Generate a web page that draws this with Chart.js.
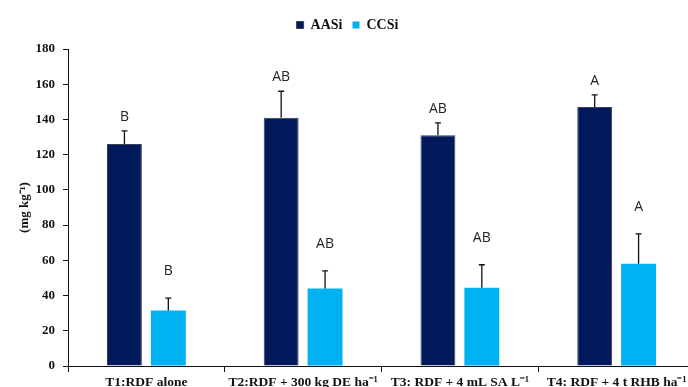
<!DOCTYPE html>
<html>
<head>
<meta charset="utf-8">
<script src="https://cdn.jsdelivr.net/npm/chart.js@4"></script>
<style>
  html, body { margin: 0; padding: 0; background: #fff; overflow: hidden; }
  #wrap { width: 700px; height: 387px; }
</style>
</head>
<body>
<div id="wrap"><canvas id="chart" width="700" height="387"></canvas></div>
<script>
// Treatments on the x axis
const categories = ['T1:RDF alone', 'T2:RDF + 300 kg DE ha\u207B\u00B9', 'T3: RDF + 4 mL SA L\u207B\u00B9', 'T4: RDF + 4 t RHB ha\u207B\u00B9'];

// Silicon fractions (mg kg-1)
const aasiValues = [126, 141, 131, 147];
const ccsiValues = [31.5, 44, 44.5, 58];

// Upper error bars
const aasiErrors = [7.5, 15, 7, 7];
const ccsiErrors = [7, 10, 13, 17];

// Significance letters
const aasiLetters = ['B', 'AB', 'AB', 'A'];
const ccsiLetters = ['B', 'AB', 'AB', 'A'];

const yTicks = [0, 20, 40, 60, 80, 100, 120, 140, 160, 180];

const serif = '"Liberation Serif", "Times New Roman", serif';

// draws error bars and letters above each bar
const errorBarPlugin = {
    id: 'errorBars',
    afterDatasetsDraw(chart) {
        const ctx = chart.ctx;
        const yScale = chart.scales.y;
        const errs = [aasiErrors, ccsiErrors];
        const letters = [aasiLetters, ccsiLetters];
        const letterGap = [14, 27];

        chart.data.datasets.forEach((ds, di) => {
            const meta = chart.getDatasetMeta(di);
            meta.data.forEach((bar, i) => {
                const x = bar.x;
                const yTop = bar.y;
                const yErr = yScale.getPixelForValue(ds.data[i] + errs[di][i]);

                ctx.save();
                ctx.strokeStyle = '#111';
                ctx.lineWidth = 1.3;
                ctx.beginPath();
                ctx.moveTo(x, yTop);
                ctx.lineTo(x, yErr);
                ctx.moveTo(x - 3, yErr);
                ctx.lineTo(x + 3, yErr);
                ctx.stroke();

                ctx.fillStyle = '#222';
                ctx.font = '14px "Open Sans", "Liberation Sans", sans-serif';
                ctx.textAlign = 'center';
                ctx.textBaseline = 'middle';
                ctx.fillText(letters[di][i], x, yErr - letterGap[di]);
                ctx.restore();
            });
        });
    }
};

// extra space under the legend
const legendMargin = {
    id: 'legendMargin',
    beforeInit(chart) {
        const fit = chart.legend.fit;
        chart.legend.fit = function () {
            fit.bind(chart.legend)();
            this.height += 7;
        };
    }
};

const ctx = document.getElementById('chart').getContext('2d');

new Chart(ctx, {
    type: 'bar',
    data: {
        labels: categories,
        datasets: [
            {
                label: 'AASi',
                data: aasiValues,
                backgroundColor: '#021A5B',
                borderColor: '#3a3f55',
                borderWidth: 1,
                categoryPercentage: 0.56,
                barPercentage: 0.795
            },
            {
                label: 'CCSi',
                data: ccsiValues,
                backgroundColor: '#00B2F2',
                borderWidth: 0,
                categoryPercentage: 0.56,
                barPercentage: 0.795
            }
        ]
    },
    options: {
        responsive: false,
        animation: false,
        layout: {
            padding: { left: 0, right: 5, top: 8, bottom: 0 }
        },
        plugins: {
            legend: {
                display: true,
                position: 'top',
                labels: {
                    boxWidth: 7,
                    boxHeight: 7,
                    padding: 10,
                    color: '#111',
                    font: { family: serif, size: 14, weight: 'bold' }
                }
            },
            tooltip: { enabled: false }
        },
        scales: {
            x: {
                grid: {
                    display: true,
                    drawOnChartArea: false,
                    tickLength: 6,
                    color: '#111'
                },
                border: { color: '#111', width: 1 },
                ticks: {
                    color: '#111',
                    maxRotation: 0,
                    autoSkip: false,
                    padding: 2,
                    font: { family: serif, size: 13.5, weight: 'bold' }
                },
                afterFit(scale) { scale.height = 21; }
            },
            y: {
                min: 0,
                max: 180,
                afterBuildTicks(scale) {
                    scale.ticks = yTicks.map(v => ({ value: v }));
                },
                grid: {
                    display: true,
                    drawOnChartArea: false,
                    tickLength: 5,
                    color: '#111'
                },
                border: { color: '#111', width: 1 },
                ticks: {
                    color: '#111',
                    padding: 8,
                    font: { family: serif, size: 13, weight: 'bold' }
                },
                title: {
                    display: true,
                    text: '(mg kg\u207B\u00B9)',
                    color: '#111',
                    padding: { top: 17, bottom: 0 },
                    font: { family: serif, size: 13, weight: 'bold' }
                },
                afterFit(scale) { scale.width = 68; }
            }
        }
    },
    plugins: [errorBarPlugin, legendMargin]
});
</script>
</body>
</html>
